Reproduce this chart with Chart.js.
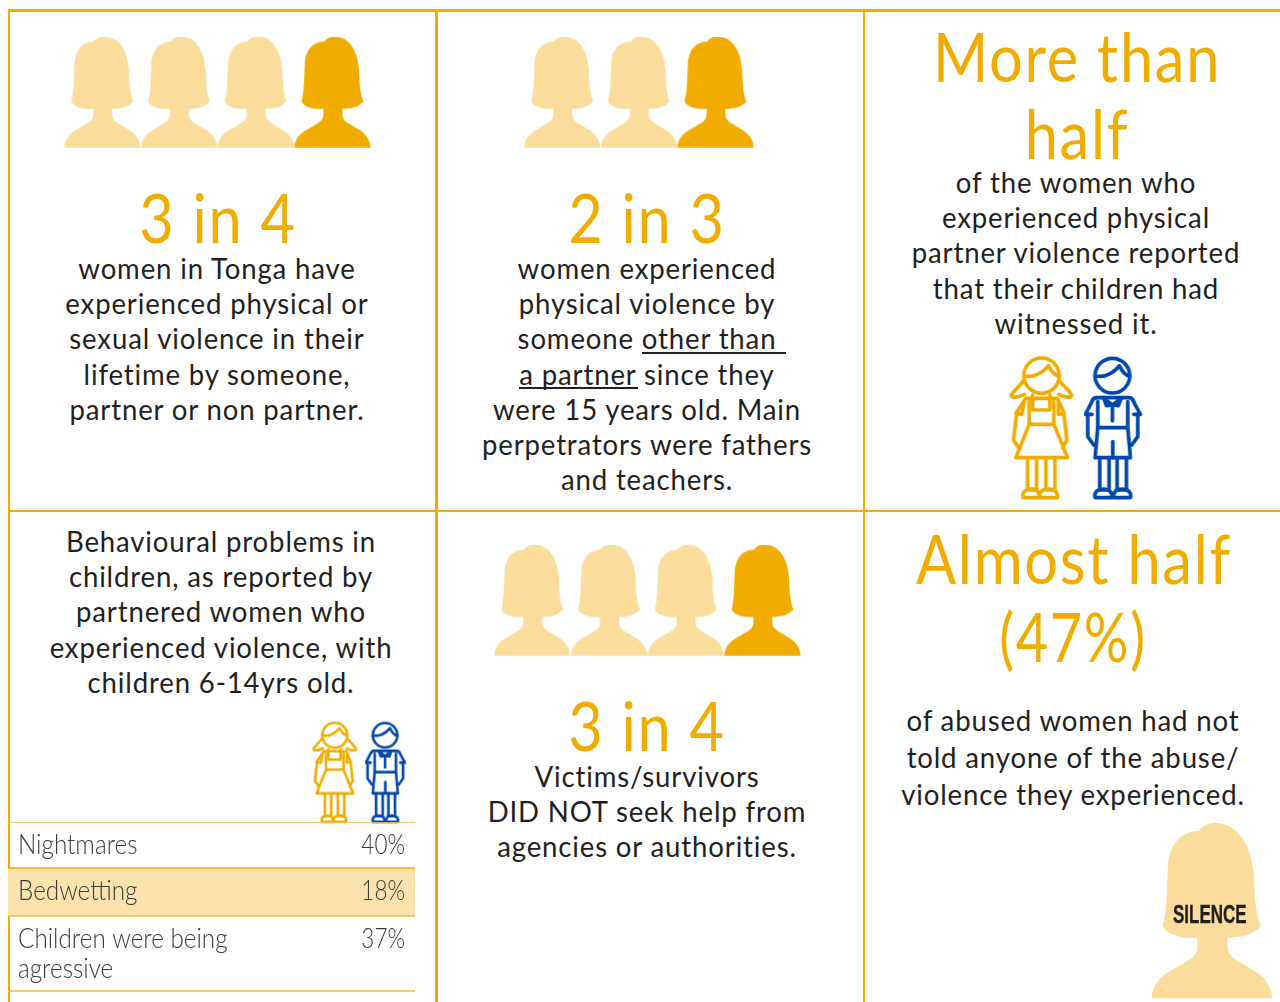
<!DOCTYPE html>
<html>
<head>
<meta charset="utf-8">
<script src="https://cdn.jsdelivr.net/npm/chart.js@4"></script>
<style>
  html, body { margin: 0; padding: 0; background: #fff; overflow: hidden; }
  #page { position: relative; width: 1280px; height: 1002px; overflow: hidden; font-family: Lato, sans-serif; color: #231f20; }
  .rule { position: absolute; background: #f0ad00; }
  .ink { position: absolute; background: #231f20; }
  .box { position: absolute; }
  .txt { position: absolute; transform: translateX(-50%) scaleX(0.935); text-align: center; white-space: pre; font-size: 29.5px; line-height: 35.2px; letter-spacing: 0.9px; }
  .big { color: #f0ad00; font-weight: 400; letter-spacing: 2px; transform: translateX(-50%) scaleX(0.875); }
  .silence { position: absolute; left: 1173px; top: 900px; font: bold 25px "Liberation Sans", sans-serif; color: #231f20; -webkit-text-stroke: 0.4px #231f20; transform: scaleX(0.68); transform-origin: left top; }
</style>
</head>
<body>
<div id="page"></div>
<script>
// pictogram values: icons in the row, and how many of them are pale
const womenTotals = [4, 3, 4];
const womenPale = [3, 2, 3];

// behaviour table
const behaviours = [['Nightmares'], ['Bedwetting'], ['Children were being', 'agressive']];
const behaviourPct = [40, 18, 37];

// text
const headlines = ['3 in 4', '2 in 3', 'More than\nhalf', '3 in 4', 'Almost half', '(47%)'];
const bodies = [
  'women in Tonga have\nexperienced physical or\nsexual violence in their\nlifetime by someone,\npartner or non partner.',
  'women experienced\nphysical violence by\nsomeone other than\na partner since they\nwere 15 years old. Main\nperpetrators were fathers\nand teachers.',
  'of the women who\nexperienced physical\npartner violence reported\nthat their children had\nwitnessed it.',
  'Behavioural problems in\nchildren, as reported by\npartnered women who\nexperienced violence, with\nchildren 6-14yrs old.',
  'Victims/survivors\nDID NOT seek help from\nagencies or authorities.',
  'of abused women had not\ntold anyone of the abuse/\nviolence they experienced.'
];

const ORANGE = '#f0ad00';
const PALE = '#fadd9b';
const BLUE = '#0047ab';

const page = document.getElementById('page');

function addRule(x, y, w, h, cls) {
  const d = document.createElement('div');
  d.className = cls || 'rule';
  d.style.cssText = `left:${x}px;top:${y}px;width:${w}px;height:${h}px`;
  page.appendChild(d);
}
addRule(8, 9, 1272, 2.5);
addRule(8, 509.5, 1272, 2.5);
addRule(7.5, 9, 2.5, 993);
addRule(435, 9, 2.5, 993);
addRule(862.5, 9, 2.5, 993);

function addText(html, cx, top, cls, size, lh) {
  const d = document.createElement('div');
  d.className = 'txt' + (cls ? ' ' + cls : '');
  d.style.left = cx + 'px';
  d.style.top = top + 'px';
  if (size) d.style.fontSize = size + 'px';
  if (lh) d.style.lineHeight = lh + 'px';
  d.textContent = html;
  page.appendChild(d);
  return d;
}

addText(headlines[0], 218, 177, 'big', 68, 80);
addText(headlines[1], 647, 177, 'big', 68, 80);
addText(headlines[2], 1077, 17, 'big', 68, 77);
addText(headlines[3], 647, 685, 'big', 68, 80);
addText(headlines[4], 1074, 519, 'big', 68, 78);
addText(headlines[5], 1073, 597, 'big', 68, 78).style.transform = 'translateX(-50%) scaleX(0.82)';
addText(bodies[0], 217, 250);
addText(bodies[1], 647, 250);
addText(bodies[2], 1076, 164);
addText(bodies[3], 221, 523);
addText(bodies[4], 647, 758);
addText(bodies[5], 1073, 701, null, null, 37);

// the two underlined words in the second panel
addRule(642, 352, 144, 1.5, 'ink');
addRule(519, 387, 119, 1.5, 'ink');

// silhouette, drawn in a 230x332 box
const womanPath = new Path2D('M1 332 C5 292 35 282 56 269 C74 259 88 252 88 235 L88 217 C60 220 30 212 22 195 C30 170 30 130 32 82 C35 35 60 16 90 15 C98 5 108 0 120 0 C170 0 192 50 195 102 C197 150 198 170 208 195 C195 212 165 218 145 217 L145 235 C145 252 159 259 177 269 C198 282 225 292 230 332 Z');

function womanIcon(color, w) {
  const c = document.createElement('canvas');
  const s = w / 231;
  c.width = w;
  c.height = Math.ceil(333 * s);
  const g = c.getContext('2d');
  g.scale(s, s);
  g.fillStyle = color;
  g.fill(womanPath);
  return c;
}

const girlStrokes = [
  'M74 92 A53 53 0 1 1 180 92 A53 53 0 1 1 74 92 Z',
  'M74 92 C95 98 125 90 148 62 C155 78 165 90 180 94',
  'M72 108 C60 125 45 135 37 150 C36 160 55 158 76 148',
  'M182 108 C194 125 209 135 217 150 C218 160 199 158 178 148',
  'M100 150 L100 195 L152 195 L152 150',
  'M80 160 L174 160 L195 205 L178 208 L178 165',
  'M80 160 L50 205 L68 208 L76 165',
  'M52 208 L43 285 L58 308',
  'M194 208 L203 285 L190 308',
  'M90 170 L90 238 L164 238 L164 170',
  'M90 238 L50 338 L205 338 L164 238',
  'M85 338 L85 435 L112 435 L112 338',
  'M140 338 L140 435 L167 435 L167 338',
  'M72 458 C68 440 80 432 98 432 C114 432 122 442 118 458 Z',
  'M122 458 C118 440 130 432 148 432 C166 432 178 442 174 458 Z'
];
const boyStrokes = [
  'M34 92 A52 52 0 1 1 138 92 A52 52 0 1 1 34 92 Z',
  'M34 92 C55 98 85 90 107 62 C114 78 124 90 138 94',
  'M38 158 L136 158 C146 158 148 165 152 175 L170 208 L150 208',
  'M38 158 C28 158 26 165 22 175 L5 208 L25 208',
  'M60 160 L86 180 L112 160',
  'M60 160 L68 182 L86 180 L104 182 L112 160',
  'M86 180 L86 228',
  'M12 208 L12 275 L30 300',
  'M162 208 L162 275 L144 300',
  'M42 170 L42 248 L132 248 L132 170',
  'M42 248 L34 338 L140 338 L132 248',
  'M87 290 L87 338',
  'M48 338 L48 435 L76 435 L76 338',
  'M100 338 L100 435 L128 435 L128 338',
  'M34 458 C30 440 42 432 60 432 C76 432 86 442 84 458 Z',
  'M90 458 C88 440 98 432 114 432 C132 432 144 442 140 458 Z'
];

function strokeIcon(strokes, color, s, w) {
  const c = document.createElement('canvas');
  c.width = Math.ceil(w * s);
  c.height = Math.ceil(470 * s);
  const g = c.getContext('2d');
  g.scale(s, s);
  g.strokeStyle = color;
  g.lineWidth = 11;
  g.lineJoin = 'round';
  g.lineCap = 'round';
  strokes.forEach(p => g.stroke(new Path2D(p)));
  return c;
}

function addChart(x, y, w, h, config) {
  const d = document.createElement('div');
  d.className = 'box';
  d.style.cssText = `left:${x}px;top:${y}px;width:${w}px;height:${h}px`;
  const cv = document.createElement('canvas');
  cv.width = w;
  cv.height = h;
  d.appendChild(cv);
  page.appendChild(d);
  return new Chart(cv, config);
}

// one row of icons: one category per icon, all on the same hidden y value
function iconRow(x, y, w, h, icons) {
  return addChart(x, y, w, h, {
    type: 'line',
    data: {
      labels: icons.map((_, i) => i + 1),
      datasets: [{
        data: icons.map(() => 1),
        showLine: false,
        clip: false,
        pointStyle: ctx => icons[ctx.dataIndex]
      }]
    },
    options: {
      responsive: false,
      animation: false,
      layout: { padding: 0, autoPadding: false },
      plugins: { legend: { display: false }, tooltip: { enabled: false } },
      scales: {
        x: { display: false, offset: true },
        y: { display: false, min: 0, max: 2 }
      }
    }
  });
}

function womenIcons(i, w) {
  const icons = [];
  for (let k = 0; k < womenTotals[i]; k++) {
    icons.push(womanIcon(k < womenPale[i] ? PALE : ORANGE, w));
  }
  return icons;
}

iconRow(64, 36, 307, 112, womenIcons(0, 77));
iconRow(524, 36, 230, 112, womenIcons(1, 77));
iconRow(494, 544, 307, 112, womenIcons(2, 77));
iconRow(1151, 823, 122, 176, [womanIcon(PALE, 122)]);

const bigS = 1 / 3, smallS = 0.709 / 3;
iconRow(1005, 345, 145, 157, [strokeIcon(girlStrokes, ORANGE, bigS, 250), strokeIcon(boyStrokes, BLUE, bigS, 180)]);
iconRow(309, 714, 103, 111, [strokeIcon(girlStrokes, ORANGE, smallS, 250), strokeIcon(boyStrokes, BLUE, smallS, 180)]);

const sil = document.createElement('div');
sil.className = 'silence';
sil.textContent = 'SILENCE';
page.appendChild(sil);

// behaviour table, drawn from the arrays on a hidden scale measured in px of table height
const rowHeights = [46, 48, 75];
const rowEdges = [0, 46, 94, 169];

function squeezedText(ctx, t, x, y, sx) {
  ctx.save();
  ctx.translate(x, y);
  ctx.scale(sx, 1);
  ctx.fillText(t, 0, 0);
  ctx.restore();
}

const tablePlugin = {
  id: 'behaviourTable',
  afterDatasetsDraw(chart) {
    const { ctx, scales: { x, y } } = chart;
    const L = x.left, R = x.right;
    ctx.save();
    const py1 = y.getPixelForValue(rowEdges[1]), py2 = y.getPixelForValue(rowEdges[2]);
    ctx.fillStyle = '#fae3ad';
    ctx.fillRect(L, py1, R - L, py2 - py1);
    rowEdges.forEach((e, i) => {
      ctx.strokeStyle = (i === 1) ? ORANGE : '#f3bb45';
      ctx.lineWidth = 1.5;
      ctx.beginPath();
      ctx.moveTo(L, y.getPixelForValue(e));
      ctx.lineTo(R, y.getPixelForValue(e));
      ctx.stroke();
    });
    ctx.fillStyle = '#3c3a3a';
    ctx.font = '300 26.5px Lato';
    ctx.textBaseline = 'middle';
    behaviours.forEach((lines, i) => {
      const top = y.getPixelForValue(rowEdges[i]);
      ctx.textAlign = 'left';
      lines.forEach((t, k) => squeezedText(ctx, t, L + 10, top + 23.5 + k * 30, 0.915));
      ctx.textAlign = 'right';
      squeezedText(ctx, behaviourPct[i] + '%', R - 10, top + 23.5, 0.85);
    });
    ctx.restore();
  }
};

addChart(8, 822, 407, 172, {
  type: 'scatter',
  data: {
    datasets: [{
      data: behaviourPct.map((p, i) => ({ x: p, y: rowEdges[i] + rowHeights[i] / 2 })),
      pointRadius: 0
    }]
  },
  options: {
    responsive: false,
    animation: false,
    layout: { padding: 0, autoPadding: false },
    plugins: { legend: { display: false }, tooltip: { enabled: false } },
    scales: {
      x: { display: false, min: 0, max: 100 },
      y: { display: false, min: 0, max: 172, reverse: true }
    }
  },
  plugins: [tablePlugin]
});
</script>
</body>
</html>
